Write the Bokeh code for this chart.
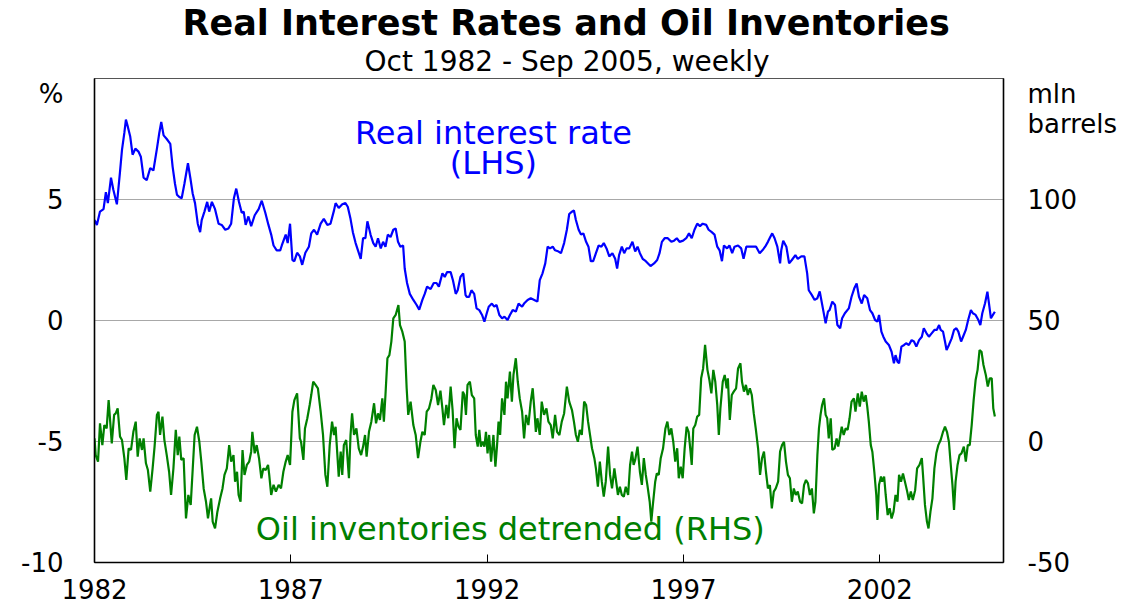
from bokeh.plotting import figure
from bokeh.models import Range1d, LinearAxis, FixedTicker, Label, Title
from bokeh.embed import file_html
from bokeh.resources import INLINE

# ---- Real interest rate (LHS, %) : decimal year, value ----
rate_year = [
    1982.75, 1982.81, 1982.89, 1982.98, 1983.04, 1983.09, 1983.17, 1983.23, 1983.32, 1983.40,
    1983.45, 1983.51, 1983.55, 1983.60, 1983.66, 1983.72, 1983.79, 1983.87, 1983.93, 1984.00,
    1984.08, 1984.17, 1984.25, 1984.34, 1984.40, 1984.45, 1984.51, 1984.59, 1984.68, 1984.74,
    1984.80, 1984.85, 1984.91, 1984.97, 1985.04, 1985.13, 1985.19, 1985.25, 1985.31, 1985.38,
    1985.44, 1985.48, 1985.55, 1985.62, 1985.67, 1985.74, 1985.82, 1985.91, 1985.99, 1986.08,
    1986.16, 1986.23, 1986.30, 1986.36, 1986.43, 1986.50, 1986.55, 1986.60, 1986.67, 1986.74,
    1986.83, 1986.93, 1987.01, 1987.10, 1987.18, 1987.25, 1987.31, 1987.39, 1987.48, 1987.52,
    1987.62, 1987.67, 1987.73, 1987.79, 1987.84, 1987.91, 1987.98, 1988.04, 1988.12, 1988.21,
    1988.27, 1988.34, 1988.42, 1988.51, 1988.59, 1988.68, 1988.76, 1988.85, 1988.89, 1988.97,
    1989.06, 1989.14, 1989.20, 1989.27, 1989.33, 1989.40, 1989.46, 1989.53, 1989.59, 1989.65,
    1989.70, 1989.78, 1989.85, 1989.91, 1989.97, 1990.04, 1990.10, 1990.16, 1990.22, 1990.29,
    1990.36, 1990.42, 1990.48, 1990.54, 1990.61, 1990.65, 1990.71, 1990.78, 1990.87, 1990.95,
    1991.02, 1991.10, 1991.16, 1991.22, 1991.31, 1991.39, 1991.46, 1991.52, 1991.61, 1991.67,
    1991.73, 1991.82, 1991.88, 1991.95, 1992.00, 1992.07, 1992.14, 1992.20, 1992.23, 1992.29,
    1992.35, 1992.42, 1992.48, 1992.55, 1992.62, 1992.68, 1992.74, 1992.79, 1992.87, 1992.93,
    1992.99, 1993.06, 1993.13, 1993.19, 1993.27, 1993.33, 1993.40, 1993.48, 1993.55, 1993.64,
    1993.69, 1993.78, 1993.86, 1993.95, 1994.03, 1994.09, 1994.16, 1994.23, 1994.29, 1994.35,
    1994.42, 1994.48, 1994.57, 1994.63, 1994.71, 1994.78, 1994.84, 1994.91, 1994.96, 1995.01,
    1995.08, 1995.14, 1995.20, 1995.27, 1995.33, 1995.39, 1995.45, 1995.52, 1995.59, 1995.66,
    1995.72, 1995.79, 1995.86, 1995.94, 1996.01, 1996.06, 1996.11, 1996.18, 1996.24, 1996.30,
    1996.37, 1996.45, 1996.52, 1996.58, 1996.64, 1996.71, 1996.79, 1996.91, 1997.00, 1997.08,
    1997.14, 1997.20, 1997.27, 1997.35, 1997.44, 1997.51, 1997.58, 1997.65, 1997.74, 1997.82,
    1997.89, 1997.96, 1998.03, 1998.10, 1998.17, 1998.24, 1998.33, 1998.39, 1998.47, 1998.54,
    1998.61, 1998.67, 1998.73, 1998.78, 1998.86, 1998.92, 1998.99, 1999.05, 1999.14, 1999.22,
    1999.28, 1999.35, 1999.43, 1999.52, 1999.60, 1999.69, 1999.76, 1999.83, 1999.90, 1999.96,
    2000.01, 2000.07, 2000.14, 2000.21, 2000.24, 2000.29, 2000.37, 2000.44, 2000.51, 2000.60,
    2000.66, 2000.75, 2000.83, 2000.90, 2000.94, 2001.02, 2001.09, 2001.16, 2001.22, 2001.30,
    2001.37, 2001.43, 2001.47, 2001.54, 2001.61, 2001.67, 2001.74, 2001.79, 2001.86, 2001.96,
    2002.03, 2002.10, 2002.16, 2002.22, 2002.29, 2002.35, 2002.43, 2002.50, 2002.56, 2002.63,
    2002.69, 2002.73, 2002.79, 2002.84, 2002.90, 2002.98, 2003.05, 2003.11, 2003.15, 2003.20,
    2003.24, 2003.30, 2003.37, 2003.42, 2003.49, 2003.56, 2003.62, 2003.68, 2003.75, 2003.82,
    2003.87, 2003.94, 2004.00, 2004.07, 2004.14, 2004.20, 2004.26, 2004.30, 2004.36, 2004.41,
    2004.45, 2004.51, 2004.58, 2004.64, 2004.70, 2004.75, 2004.82, 2004.87, 2004.94, 2005.00,
    2005.07, 2005.12, 2005.19, 2005.26, 2005.31, 2005.36, 2005.43, 2005.49, 2005.53, 2005.58,
    2005.63, 2005.68,
]
rate_pct = [
    4.15, 3.95, 4.50, 4.60, 5.30, 4.85, 5.90, 5.40, 4.80, 6.15,
    7.05, 7.75, 8.30, 8.00, 7.60, 6.85, 7.10, 6.98, 6.77, 5.90,
    5.80, 6.30, 6.20, 7.10, 7.75, 8.20, 7.65, 7.50, 7.30, 6.35,
    5.65, 5.20, 5.10, 5.05, 5.65, 6.50, 5.90, 5.25, 4.85, 4.00,
    3.65, 4.15, 4.50, 4.90, 4.50, 4.90, 4.60, 4.00, 3.95, 3.75,
    3.80, 4.00, 5.05, 5.45, 4.90, 4.45, 4.50, 3.95, 4.30, 3.90,
    4.35, 4.60, 4.95, 4.45, 3.95, 3.55, 3.10, 2.90, 2.90, 3.10,
    3.55, 3.20, 4.00, 2.50, 2.45, 2.80, 2.65, 2.30, 2.80, 3.05,
    3.60, 3.75, 3.55, 4.00, 4.20, 3.95, 4.00, 4.55, 4.85, 4.65,
    4.80, 4.85, 4.70, 4.20, 3.65, 3.20, 2.90, 2.55, 3.40, 3.40,
    4.10, 3.55, 3.20, 3.05, 3.40, 2.98, 3.25, 3.05, 3.55, 3.45,
    3.75, 3.80, 3.25, 3.05, 3.10, 2.15, 1.55, 1.10, 0.85, 0.65,
    0.45, 0.85, 1.10, 1.40, 1.30, 1.55, 1.55, 1.40, 1.95, 1.80,
    2.00, 2.00, 1.65, 1.10, 1.25, 1.80, 1.95, 1.05, 0.98, 0.98,
    1.25, 1.10, 0.50, 0.43, 0.23, -0.05, 0.30, 0.57, 0.70, 0.57,
    0.64, 0.23, 0.09, 0.16, 0.02, 0.23, 0.43, 0.37, 0.70, 0.57,
    0.70, 0.85, 0.92, 0.85, 0.78, 1.67, 1.95, 2.36, 3.05, 2.98,
    3.05, 2.90, 2.85, 2.78, 3.20, 3.75, 4.40, 4.50, 4.55, 4.15,
    3.75, 3.55, 3.60, 3.25, 3.05, 2.45, 2.45, 2.78, 3.10, 3.05,
    3.20, 2.98, 2.65, 2.78, 2.55, 2.15, 2.70, 3.05, 2.78, 2.98,
    2.98, 3.25, 2.85, 3.05, 2.78, 2.55, 2.45, 2.25, 2.36, 2.50,
    2.78, 3.25, 3.40, 3.40, 3.25, 3.30, 3.40, 3.25, 3.30, 3.40,
    3.60, 3.40, 3.75, 4.00, 3.90, 4.00, 3.95, 3.75, 3.65, 3.55,
    3.05, 2.90, 2.45, 3.10, 2.98, 3.10, 2.78, 3.05, 3.10, 2.98,
    2.55, 3.05, 3.05, 3.05, 3.05, 2.78, 2.90, 3.05, 3.25, 3.45,
    3.60, 3.40, 3.05, 2.36, 2.90, 3.30, 3.05, 2.36, 2.50, 2.70,
    2.55, 2.65, 2.65, 1.95, 1.25, 1.05, 0.85, 0.92, 1.20, 0.50,
    -0.12, 0.37, 0.43, 0.78, 0.64, -0.19, -0.32, 0.09, 0.30, 0.50,
    0.98, 1.33, 1.53, 0.98, 0.70, 1.05, 0.92, 0.43, 0.30, 0.02,
    -0.05, 0.23, -0.46, -0.67, -0.87, -1.01, -1.29, -1.77, -1.43, -1.70,
    -1.77, -1.08, -1.01, -0.94, -1.01, -0.81, -0.87, -1.08, -0.81, -0.67,
    -0.32, -0.53, -0.67, -0.53, -0.39, -0.39, -0.19, -0.39, -0.46, -0.87,
    -1.22, -1.01, -0.74, -0.39, -0.32, -0.46, -0.87, -0.67, -0.39, 0.02,
    0.43, 0.30, 0.23, 0.02, -0.19, 0.30, 0.71, 1.19, 0.71, 0.09,
    0.23, 0.36,
]

# ---- Oil inventories detrended (RHS, mln barrels) : decimal year, value ----
inv_year = [
    1982.75, 1982.78, 1982.84, 1982.89, 1982.95, 1983.00, 1983.06, 1983.11, 1983.15, 1983.19,
    1983.25, 1983.29, 1983.34, 1983.40, 1983.45, 1983.51, 1983.56, 1983.62, 1983.68, 1983.74,
    1983.80, 1983.85, 1983.90, 1983.96, 1984.00, 1984.06, 1984.11, 1984.17, 1984.23, 1984.28,
    1984.34, 1984.38, 1984.42, 1984.48, 1984.53, 1984.59, 1984.65, 1984.70, 1984.76, 1984.82,
    1984.87, 1984.91, 1984.96, 1985.02, 1985.08, 1985.14, 1985.20, 1985.25, 1985.30, 1985.36,
    1985.42, 1985.47, 1985.53, 1985.59, 1985.64, 1985.68, 1985.72, 1985.76, 1985.82, 1985.88,
    1985.95, 1986.01, 1986.06, 1986.12, 1986.18, 1986.23, 1986.29, 1986.33, 1986.38, 1986.42,
    1986.47, 1986.52, 1986.57, 1986.63, 1986.69, 1986.74, 1986.77, 1986.83, 1986.88, 1986.94,
    1987.00, 1987.05, 1987.11, 1987.17, 1987.20, 1987.25, 1987.31, 1987.37, 1987.44, 1987.50,
    1987.56, 1987.62, 1987.67, 1987.73, 1987.79, 1987.84, 1987.91, 1987.98, 1988.01, 1988.07,
    1988.11, 1988.17, 1988.23, 1988.27, 1988.32, 1988.38, 1988.44, 1988.51, 1988.57, 1988.63,
    1988.68, 1988.74, 1988.80, 1988.85, 1988.89, 1988.93, 1988.97, 1989.02, 1989.06, 1989.10,
    1989.16, 1989.23, 1989.27, 1989.31, 1989.36, 1989.42, 1989.48, 1989.54, 1989.59, 1989.64,
    1989.68, 1989.74, 1989.80, 1989.87, 1989.92, 1989.97, 1990.02, 1990.08, 1990.12, 1990.16,
    1990.21, 1990.26, 1990.31, 1990.36, 1990.42, 1990.49, 1990.53, 1990.59, 1990.65, 1990.70,
    1990.74, 1990.80, 1990.87, 1990.93, 1990.99, 1991.05, 1991.10, 1991.16, 1991.21, 1991.27,
    1991.33, 1991.38, 1991.44, 1991.50, 1991.56, 1991.61, 1991.65, 1991.71, 1991.76, 1991.82,
    1991.87, 1991.92, 1991.97, 1992.02, 1992.07, 1992.13, 1992.17, 1992.21, 1992.25, 1992.31,
    1992.36, 1992.42, 1992.46, 1992.51, 1992.55, 1992.59, 1992.63, 1992.68, 1992.72, 1992.76,
    1992.80, 1992.85, 1992.91, 1992.96, 1993.00, 1993.04, 1993.08, 1993.13, 1993.19, 1993.23,
    1993.27, 1993.33, 1993.38, 1993.42, 1993.48, 1993.53, 1993.58, 1993.64, 1993.69, 1993.74,
    1993.80, 1993.86, 1993.91, 1993.95, 1993.99, 1994.03, 1994.09, 1994.14, 1994.20, 1994.26,
    1994.31, 1994.37, 1994.42, 1994.48, 1994.53, 1994.59, 1994.65, 1994.71, 1994.78, 1994.84,
    1994.91, 1994.96, 1995.01, 1995.06, 1995.11, 1995.16, 1995.22, 1995.27, 1995.32, 1995.37,
    1995.42, 1995.48, 1995.52, 1995.57, 1995.62, 1995.67, 1995.72, 1995.77, 1995.83, 1995.88,
    1995.93, 1995.99, 1996.03, 1996.08, 1996.13, 1996.18, 1996.23, 1996.28, 1996.34, 1996.39,
    1996.44, 1996.48, 1996.52, 1996.58, 1996.64, 1996.69, 1996.74, 1996.79, 1996.83, 1996.89,
    1996.93, 1996.97, 1997.03, 1997.07, 1997.12, 1997.17, 1997.23, 1997.29, 1997.34, 1997.39,
    1997.44, 1997.49, 1997.54, 1997.59, 1997.63, 1997.68, 1997.73, 1997.78, 1997.83, 1997.88,
    1997.93, 1997.96, 1998.00, 1998.05, 1998.10, 1998.15, 1998.20, 1998.25, 1998.30, 1998.36,
    1998.41, 1998.46, 1998.51, 1998.56, 1998.61, 1998.65, 1998.69, 1998.75, 1998.80, 1998.85,
    1998.88, 1998.93, 1998.98, 1999.03, 1999.09, 1999.14, 1999.20, 1999.24, 1999.29, 1999.34,
    1999.39, 1999.44, 1999.49, 1999.54, 1999.59, 1999.65, 1999.70, 1999.75, 1999.80, 1999.85,
    1999.90, 1999.95, 2000.00, 2000.05, 2000.10, 2000.16, 2000.21, 2000.26, 2000.31, 2000.36,
    2000.41, 2000.46, 2000.51, 2000.56, 2000.61, 2000.66, 2000.72, 2000.77, 2000.82, 2000.87,
    2000.92, 2000.97, 2001.02, 2001.07, 2001.11, 2001.16, 2001.20, 2001.24, 2001.28, 2001.33,
    2001.37, 2001.41, 2001.45, 2001.50, 2001.54, 2001.60, 2001.65, 2001.69, 2001.73, 2001.78,
    2001.83, 2001.88, 2001.93, 2001.98, 2002.03, 2002.09, 2002.13, 2002.19, 2002.24, 2002.29,
    2002.34, 2002.39, 2002.43, 2002.47, 2002.52, 2002.56, 2002.61, 2002.66, 2002.69, 2002.73,
    2002.78, 2002.81, 2002.86, 2002.90, 2002.95, 2003.00, 2003.05, 2003.10, 2003.15, 2003.20,
    2003.24, 2003.29, 2003.34, 2003.39, 2003.44, 2003.49, 2003.54, 2003.59, 2003.65, 2003.70,
    2003.76, 2003.82, 2003.85, 2003.90, 2003.95, 2003.99, 2004.04, 2004.09, 2004.14, 2004.19,
    2004.24, 2004.30, 2004.36, 2004.41, 2004.46, 2004.51, 2004.55, 2004.60, 2004.64, 2004.68,
    2004.73, 2004.78, 2004.83, 2004.89, 2004.94, 2004.99, 2005.04, 2005.09, 2005.14, 2005.19,
    2005.24, 2005.29, 2005.34, 2005.39, 2005.45, 2005.50, 2005.55, 2005.60, 2005.64, 2005.68,
]
inv_mb = [
    1.3, -5.6, -8.3, 7.5, -1.5, 6.8, 5.4, 17.1, 8.2, -0.8,
    11.0, 11.6, 13.7, 2.0, 0.6, -6.9, -15.9, -2.8, -3.5, 4.0,
    8.2, -6.3, 1.3, -3.5, 1.3, -9.0, -11.8, -20.7, -11.1, -2.1,
    11.0, 12.3, 2.7, 10.3, 0.6, -5.6, -12.5, -22.1, -11.1, 4.8,
    -5.6, 2.0, -7.6, -6.9, -31.8, -22.1, -26.2, -11.8, 2.7, 6.1,
    -0.1, -8.3, -19.4, -24.9, -31.8, -27.6, -23.5, -33.1, -35.9, -29.0,
    -23.5, -19.4, -13.8, -11.1, -1.5, -8.3, -5.6, -16.6, -12.5, -22.1,
    -24.9, -3.5, -13.8, -9.7, -8.3, -4.2, 4.0, -4.9, -1.5, -6.9,
    -15.2, -11.1, -11.8, -9.7, -13.8, -22.1, -17.9, -20.7, -17.9, -19.4,
    -12.5, -8.3, -5.6, -9.7, 12.3, 17.1, 19.9, 1.3, -0.1, -7.6,
    5.4, 9.6, 15.1, 19.2, 24.7, 23.4, 22.0, 12.3, 2.7, -13.8,
    -18.7, -1.5, 8.2, 2.7, 6.1, -4.2, -14.5, -4.2, -13.8, -1.5,
    0.6, -15.2, 2.7, 11.6, 2.7, 5.4, -2.8, -5.6, -2.1, 2.7,
    -6.3, 4.0, 8.2, 15.8, 7.5, 11.6, 8.9, 17.8, 8.2, 19.2,
    34.4, 35.7, 41.3, 50.9, 52.3, 56.4, 48.1, 45.4, 41.3, 22.0,
    11.0, 16.5, 6.8, 2.7, -6.9, -0.1, 4.0, 2.7, 12.3, 13.7,
    17.8, 23.4, 21.3, 15.1, 21.0, 13.7, 6.8, 15.1, 9.6, 22.7,
    13.0, -2.8, 9.6, 6.1, 4.8, 20.6, 19.2, 11.0, 23.4, 24.7,
    19.2, 17.8, 2.7, -2.1, 4.8, -2.1, -0.1, -2.1, 4.0, -4.9,
    2.7, -8.3, 2.7, -10.4, -2.1, 8.2, 2.7, 17.8, 11.0, 24.7,
    17.8, 28.9, 16.5, 27.5, 34.4, 24.7, 17.8, 12.3, 1.3, 11.0,
    6.8, 16.5, 22.0, 13.7, 4.0, 9.6, 2.7, 16.5, 11.0, 13.7,
    8.2, 6.8, 1.3, 11.0, 4.0, 2.7, 8.2, 11.6, 22.7, 16.5,
    13.0, 8.2, 2.7, -0.1, 4.8, 2.7, 16.5, 15.1, 8.2, 2.7,
    -2.8, -6.9, -11.1, -18.7, -8.3, -16.6, -22.8, -16.6, -2.1, -13.8,
    -19.4, -11.1, -15.9, -22.1, -18.7, -22.1, -22.8, -18.7, -22.1, -9.7,
    -4.2, -9.7, -7.6, -2.1, -12.5, -17.9, -6.9, -13.8, -17.9, -24.9,
    -33.1, -26.2, -16.6, -13.2, -13.8, -6.9, -2.8, 5.4, 8.2, 2.7,
    5.4, -0.1, -8.3, -2.8, -15.2, -10.4, -15.2, -2.8, 6.1, 4.0,
    -4.2, -9.7, 5.4, 6.8, 10.3, 11.0, 26.1, 30.2, 39.9, 29.6,
    25.4, 19.9, 29.6, 24.7, 15.1, 2.7, 13.7, 24.7, 27.5, 22.0,
    26.1, 8.9, 19.2, 20.6, 22.0, 30.2, 32.3, 24.7, 20.6, 23.4,
    19.2, 22.0, 19.2, 11.6, 5.4, -2.8, -13.8, -6.9, -4.2, -12.5,
    -19.4, -18.0, -27.6, -20.7, -19.4, -16.6, -4.2, -1.5, -0.1, -8.3,
    -13.8, -15.2, -24.9, -19.4, -22.1, -20.7, -24.9, -25.6, -18.0, -15.9,
    -17.3, -22.1, -19.4, -29.7, -24.9, -5.6, 5.4, 11.0, 15.1, 17.8,
    11.0, 9.6, 1.3, 9.6, -3.5, -2.8, 1.3, -2.1, 1.3, 6.1,
    2.7, 5.4, 4.8, 9.6, 16.5, 17.8, 12.3, 19.9, 14.4, 20.6,
    16.5, 19.2, 14.4, 8.2, -1.5, -4.2, -12.5, -22.1, -32.4, -17.9,
    -14.5, -16.6, -14.5, -22.1, -30.4, -27.6, -31.8, -29.0, -22.1, -24.9,
    -13.8, -16.6, -13.2, -16.6, -20.1, -24.2, -20.7, -24.2, -20.1, -11.1,
    -9.7, -6.9, -13.8, -26.2, -33.1, -35.9, -29.0, -23.5, -11.1, -4.9,
    -1.5, 0.6, 4.0, 6.1, 4.0, -0.1, -8.3, -17.9, -28.3, -16.6,
    -9.7, -5.6, -4.9, -2.1, -8.3, -1.5, -1.5, 6.8, 17.1, 25.4,
    29.6, 37.8, 37.1, 31.6, 27.5, 22.7, 26.1, 26.1, 13.7, 10.3,
]

# ---- axes ----
x_ticks = [1982.75, 1987.75, 1992.75, 1997.75, 2002.75]
x_tick_labels = ["1982", "1987", "1992", "1997", "2002"]
# the unit captions sit at the top end of each value axis
left_ticks = [-10, -5, 0, 5, 10]
left_tick_labels = ["-10", "-5", "0", "5", "\n%"]
right_ticks = [-50, 0, 50, 100, 150]
right_tick_labels = ["-50", "0", "50", "100", "\n\nmln\nbarrels"]
grid_ticks = [-5, 0, 5]

TITLE = "Real Interest Rates and Oil Inventories"
SUBTITLE = "Oct 1982 - Sep 2005, weekly"

FONT = "DejaVu Sans"
BLUE = "#0000ff"
GREEN = "#008000"

p = figure(width=1125, height=608, output_backend="svg", toolbar_location=None,
           x_range=Range1d(1982.75, 2005.90), y_range=Range1d(-10, 10),
           min_border_left=94, min_border_right=122, min_border_top=78,
           min_border_bottom=46, background_fill_color="white",
           border_fill_color="white")
p.extra_y_ranges = {"inv": Range1d(-50, 150)}
p.outline_line_color = "#555555"
p.outline_line_width = 1.2

# subtitle first (closest to the frame), then the main title above it
p.add_layout(Title(text=SUBTITLE, align="left", offset=270, standoff=1,
                   text_font=FONT, text_font_size="28px",
                   text_font_style="normal", text_color="black"), "above")
p.add_layout(Title(text=TITLE, align="left", offset=88, standoff=0,
                   text_font=FONT, text_font_size="35px",
                   text_font_style="bold", text_color="black"), "above")

p.xaxis.ticker = FixedTicker(ticks=x_ticks)
p.xaxis.major_label_overrides = {t: s for t, s in zip(x_ticks, x_tick_labels)}
p.xaxis.major_tick_in = 8
p.xaxis.major_tick_out = 0
p.xaxis.minor_tick_line_color = None
p.xaxis.major_label_standoff = 16
p.xaxis.axis_line_color = "black"
p.xaxis.axis_line_width = 1.5
p.xaxis.major_tick_line_color = "black"
p.xaxis.major_label_text_font = FONT
p.xaxis.major_label_text_font_size = "26px"
p.xaxis.major_label_text_color = "black"

p.yaxis.ticker = FixedTicker(ticks=left_ticks)
p.yaxis.major_label_overrides = {t: s for t, s in zip(left_ticks, left_tick_labels)}
p.yaxis.major_tick_in = 0
p.yaxis.major_tick_out = 0
p.yaxis.minor_tick_line_color = None
p.yaxis.major_label_standoff = 31
p.yaxis.axis_line_color = "black"
p.yaxis.axis_line_width = 1.5
p.yaxis.major_label_text_font = FONT
p.yaxis.major_label_text_font_size = "26px"
p.yaxis.major_label_text_line_height = 1.0
p.yaxis.major_label_text_color = "black"

raxis = LinearAxis(y_range_name="inv", ticker=FixedTicker(ticks=right_ticks))
raxis.major_label_overrides = {t: s for t, s in zip(right_ticks, right_tick_labels)}
raxis.major_tick_in = 0
raxis.major_tick_out = 0
raxis.minor_tick_line_color = None
raxis.major_label_standoff = 24
raxis.axis_line_color = "black"
raxis.axis_line_width = 1.5
raxis.major_label_text_font = FONT
raxis.major_label_text_font_size = "26px"
raxis.major_label_text_line_height = 1.0
raxis.major_label_text_color = "black"
p.add_layout(raxis, "right")

p.xgrid.visible = False
p.ygrid.ticker = FixedTicker(ticks=grid_ticks)
p.ygrid.grid_line_color = "#a8a8a8"
p.ygrid.grid_line_width = 1.2

p.line(rate_year, rate_pct, line_color=BLUE, line_width=2.2)
p.line(inv_year, inv_mb, line_color=GREEN, line_width=2.2, y_range_name="inv")


def lab(x, y, text, size, color):
    p.add_layout(Label(x=x, y=y, text=text, text_font=FONT,
                       text_font_size=size, text_color=color,
                       text_align="center", text_baseline="middle"))


lab(1992.91, 7.73, "Real interest rate", "32px", BLUE)
lab(1992.91, 6.49, "(LHS)", "32px", BLUE)
lab(1993.34, -8.60, "Oil inventories detrended (RHS)", "32px", GREEN)

open("out.html", "w").write(file_html(p, INLINE))
